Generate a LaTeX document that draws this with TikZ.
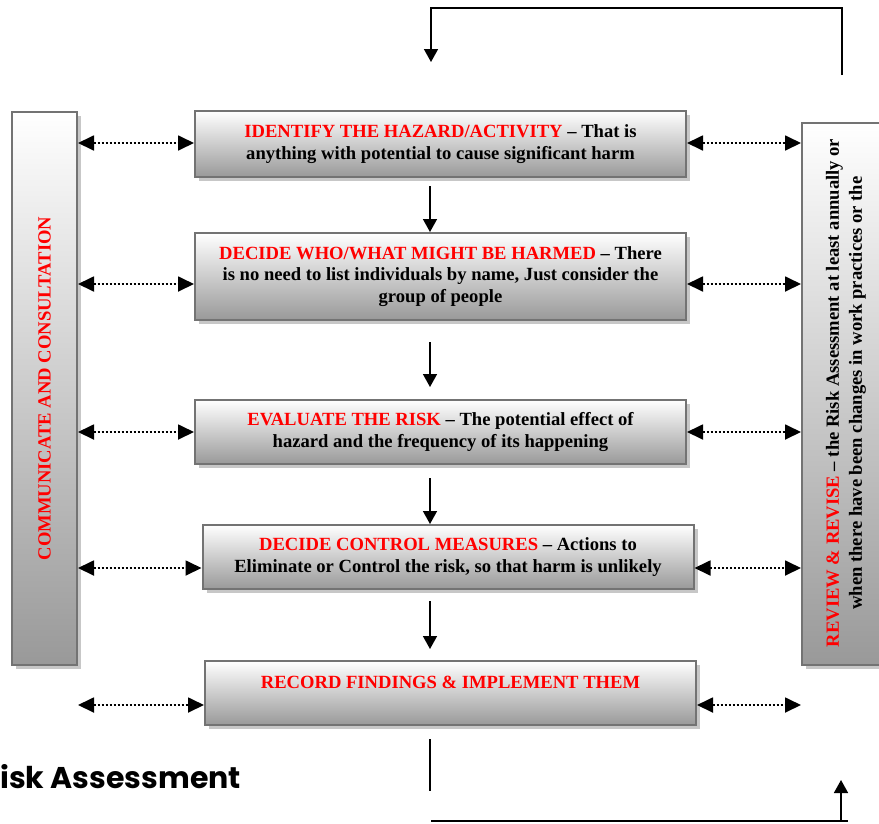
\documentclass[tikz,border=0pt]{standalone}
\usepackage{fontspec}
\setmainfont{Liberation Serif}
\newfontfamily\titlefont{Poppins}
\usetikzlibrary{arrows.meta,shadows,calc}

\begin{document}
\begin{tikzpicture}[x=1pt,y=-1pt]
        \tikzstyle{step box}=[draw=black!55,line width=2pt,top color=white,bottom color=black!40,
            drop shadow={shadow xshift=4pt,shadow yshift=-4pt,fill=black!22,opacity=1},
            minimum width=491pt,inner sep=0pt,align=center,
            font=\fontsize{18.6}{21.5}\selectfont\bfseries]
        \tikzstyle{side bar}=[step box,minimum width=65pt]
        \tikzstyle{bar text}=[rotate=90,align=center,font=\fontsize{18.6}{23}\selectfont\bfseries]
        \tikzstyle{flow}=[line width=1.6pt,-{Triangle[width=14pt,length=13pt]}]
        \tikzstyle{link}=[line width=1.8pt,dash pattern=on 2pt off 2pt,
            {Triangle[width=15pt,length=16pt]}-{Triangle[width=15pt,length=16pt]}]
        \useasboundingbox (0,0) rectangle (879,823);

        % steps
        \node[step box,minimum height=66pt] (identify) at (440.5,144) {\textcolor{red}{IDENTIFY THE HAZARD/ACTIVITY} -- That is\\anything with potential to cause significant harm};
        \node[step box,minimum height=87pt] (harmed) at (440.5,276.5) {\textcolor{red}{DECIDE WHO/WHAT MIGHT BE HARMED} -- There\\is no need to list individuals by name, Just consider the\\group of people};
        \node[step box,minimum height=64pt] (evaluate) at (440.5,432) {\textcolor{red}{EVALUATE THE RISK} -- The potential effect of\\hazard and the frequency of its happening};
        \node[step box,minimum height=64pt] (control) at (448,557) {\textcolor{red}{DECIDE CONTROL MEASURES} -- Actions to\\Eliminate or Control the risk, so that harm is unlikely};
        \node[step box,minimum height=64pt] (record) at (450.5,693) {\textcolor{red}{RECORD FINDINGS \& IMPLEMENT THEM}\\\mbox{}};

        % side bars
        \node[side bar,minimum height=553pt] (consult) at (44.5,388.5) {};
        \node[side bar,minimum width=130pt,minimum height=542pt] (review) at (867,394) {};
        \node[bar text,red] (consulttext) at (consult.center) {COMMUNICATE AND CONSULTATION};
        \node[bar text] (reviewtext) at (846,393) {\textcolor{red}{REVIEW \& REVISE} -- the Risk Assessment at least annually or\\when there have been changes in work practices or the};

        % main flow
        \coordinate (spine) at (430,0);
        \draw[flow] ($(identify.south -| spine)+(0,8)$) -- (harmed.north -| spine);
        \draw[flow] ($(harmed.south -| spine)+(0,21)$) -- ($(evaluate.north -| spine)+(0,-12)$);
        \draw[flow] ($(evaluate.south -| spine)+(0,13)$) -- (control.north -| spine);
        \draw[flow] ($(control.south -| spine)+(0,11)$) -- ($(record.south -| spine)+(0,-77)$);
        \draw[line width=1.6pt] ($(record.south -| spine)+(0,13)$) -- ($(record.south -| spine)+(0,65)$);

        % loop back
        \coordinate (backstart) at (842,75);
        \coordinate (backtopr) at (842,8);
        \coordinate (backtopl) at (431,8);
        \coordinate (backend) at (431,62);
        \draw[flow] (backstart) -- (backtopr) -- (backtopl) -- (backend);
        \coordinate (lowl) at (431,821);
        \coordinate (lowr) at (848,821);
        \coordinate (lowup) at (841,780);
        \draw[line width=1.6pt] (lowl) -- (lowr);
        \draw[flow] (lowup |- lowr) -- (lowup);

        % consultation and review links
        \foreach \b/\y in {identify/143,harmed/284,evaluate/432,control/568,record/705}{
            \draw[link] (consult.east |- 0,\y) -- (\b.west |- 0,\y);
            \draw[link] (\b.east |- 0,\y) -- (review.west |- 0,\y);
        }

        \node[font=\titlefont\bfseries\fontsize{30}{36}\selectfont,anchor=base west,inner sep=0pt] (title) at (0,788) {isk Assessment};
    \end{tikzpicture}
\end{document}
